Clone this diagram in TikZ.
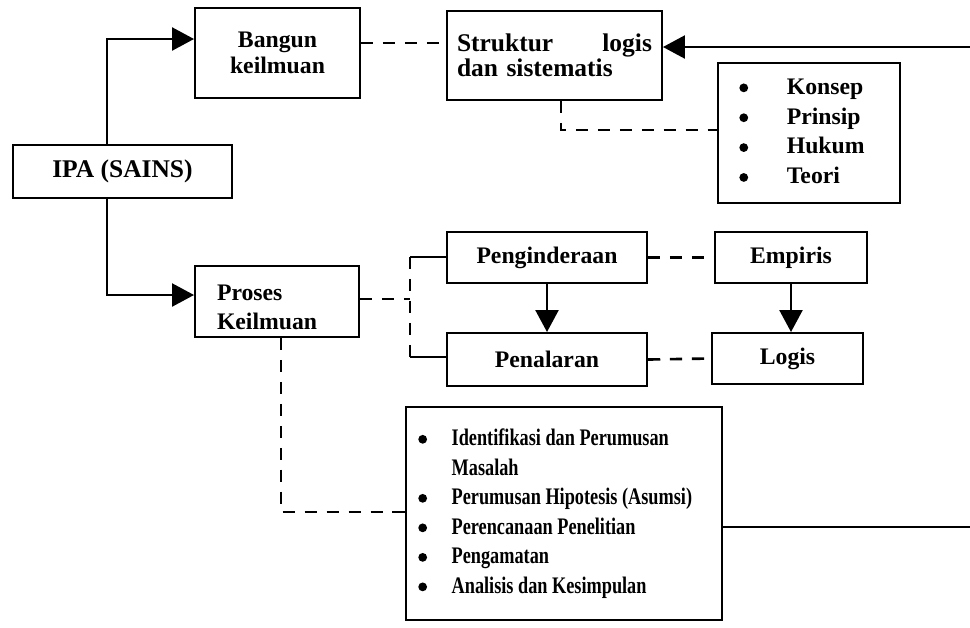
\documentclass[tikz,border=0pt]{standalone}
\usepackage{fontspec}
\setmainfont{Liberation Serif}
\newfontfamily\condensedfont[FakeStretch=0.77]{Liberation Serif}
\newcommand\bigbul{\tikz[baseline=-3.6pt]\fill[black] (0,0) circle (2.5pt);}
\usetikzlibrary{arrows.meta,calc}
\begin{document}
\begin{tikzpicture}[x=0.02cm,y=-0.02cm,
  box/.style={draw,line width=1.1pt,rectangle,inner sep=0pt,
    font=\bfseries\fontsize{13.5}{14.5}\selectfont,align=center},
  conn/.style={line width=1.5pt},
  dsh/.style={line width=1.5pt,dash pattern=on 7pt off 5.5pt},
  tip/.style={-{Triangle[length=12.5pt,width=13pt]}}]
\clip (0,0) rectangle (970,627);
\fill[white] (0,0) rectangle (970,627);

% nodes
\node[box,minimum width=3.3cm,minimum height=1.8cm] (bangun) at (277.5,53) {Bangun\\keilmuan};
\node[box,minimum width=4.38cm,minimum height=1.06cm,font=\bfseries\fontsize{14.5}{15}\selectfont] (ipa) at (122.5,171.5) {IPA (SAINS)};
\node[box,minimum width=4.3cm,minimum height=1.78cm,text width=3.9cm,align=left,
  font=\bfseries\fontsize{14.5}{14.5}\selectfont] (struktur) at (554.5,55.5)
  {\hbox to 3.9cm{Struktur\hfill logis}\\dan sistematis};
\node[box,minimum width=3.64cm,minimum height=2.8cm,font=\bfseries\fontsize{13.5}{17}\selectfont] (konsep) at (809,133)
  {\begin{tabular}{@{}l@{\hspace{22pt}}l@{}}
   \bigbul & Konsep\\
   \bigbul & Prinsip\\
   \bigbul & Hukum\\
   \bigbul & Teori
   \end{tabular}\hspace*{8pt}};
\node[box,minimum width=3.28cm,minimum height=1.42cm,text width=2.4cm,align=left,
  font=\bfseries\fontsize{13.5}{16.5}\selectfont] (proses) at (277,301.5)
  {\raisebox{-8pt}[0pt][0pt]{\begin{tabular}{@{}l@{}}Proses\\Keilmuan\end{tabular}}};
\node[box,minimum width=4cm,minimum height=1.02cm] (pengind) at (547,257.5) {Penginderaan};
\node[box,minimum width=4cm,minimum height=1.06cm] (penalaran) at (547,359.5) {Penalaran};
\node[box,minimum width=3.04cm,minimum height=1.02cm] (empiris) at (791,257.5) {Empiris};
\node[box,minimum width=3.02cm,minimum height=1.02cm] (logis) at (787.5,358.5) {Logis};
\node[box,minimum width=6.32cm,minimum height=4.26cm,font=\condensedfont\bfseries\fontsize{13.5}{16.8}\selectfont] (langkah) at (564,513.5)
  {\begin{tabular}{@{}l@{\hspace{14pt}}l@{}}
   \bigbul & Identifikasi dan Perumusan\\
           & Masalah\\
   \bigbul & Perumusan Hipotesis (Asumsi)\\
   \bigbul & Perencanaan Penelitian\\
   \bigbul & Pengamatan\\
   \bigbul & Analisis dan Kesimpulan
   \end{tabular}\hspace*{10pt}};

% helper coordinates
\coordinate (c1) at (107,39);
\coordinate (c2) at (107,295);
\coordinate (c3) at (0,43);
\coordinate (c4) at (976,527);
\coordinate (c5) at (976,47);
\coordinate (c6) at (561,130);
\coordinate (c7) at (410,299);
\coordinate (c8) at (410,257);
\coordinate (c9) at (410,357);
\coordinate (c10) at (281,512);

% connectors
\draw[conn,tip] (ipa.north -| c1) -- (c1) -- (c1 -| bangun.west);
\draw[conn,tip] (ipa.south -| c2) -- (c2) -- (c2 -| proses.west);
\draw[dsh] (bangun.east |- c3) -- (struktur.west |- c3);
\draw[conn,tip] (langkah.east |- c4) -- (c4) -- (c5) -- (struktur.east |- c5);
\draw[dsh] (struktur.south -| c6) -- (c6) -- (konsep.west |- c6);
\draw[dsh] (proses.east |- c7) -- (c7);
\draw[dsh] (c8) -- (c9);
\draw[conn] (c8) -- (pengind.west |- c8);
\draw[conn] (c9) -- (penalaran.west |- c9);
\draw[conn,tip] (pengind) -- (penalaran);
\draw[conn,tip] (empiris.south) -- (logis.north -| empiris.south);
\draw[dsh] (pengind) -- (empiris);
\draw[dsh] (penalaran.east) -- (logis.west);
\draw[dsh] (proses.south -| c10) -- (c10) -- (langkah.west |- c10);
\end{tikzpicture}
\end{document}
